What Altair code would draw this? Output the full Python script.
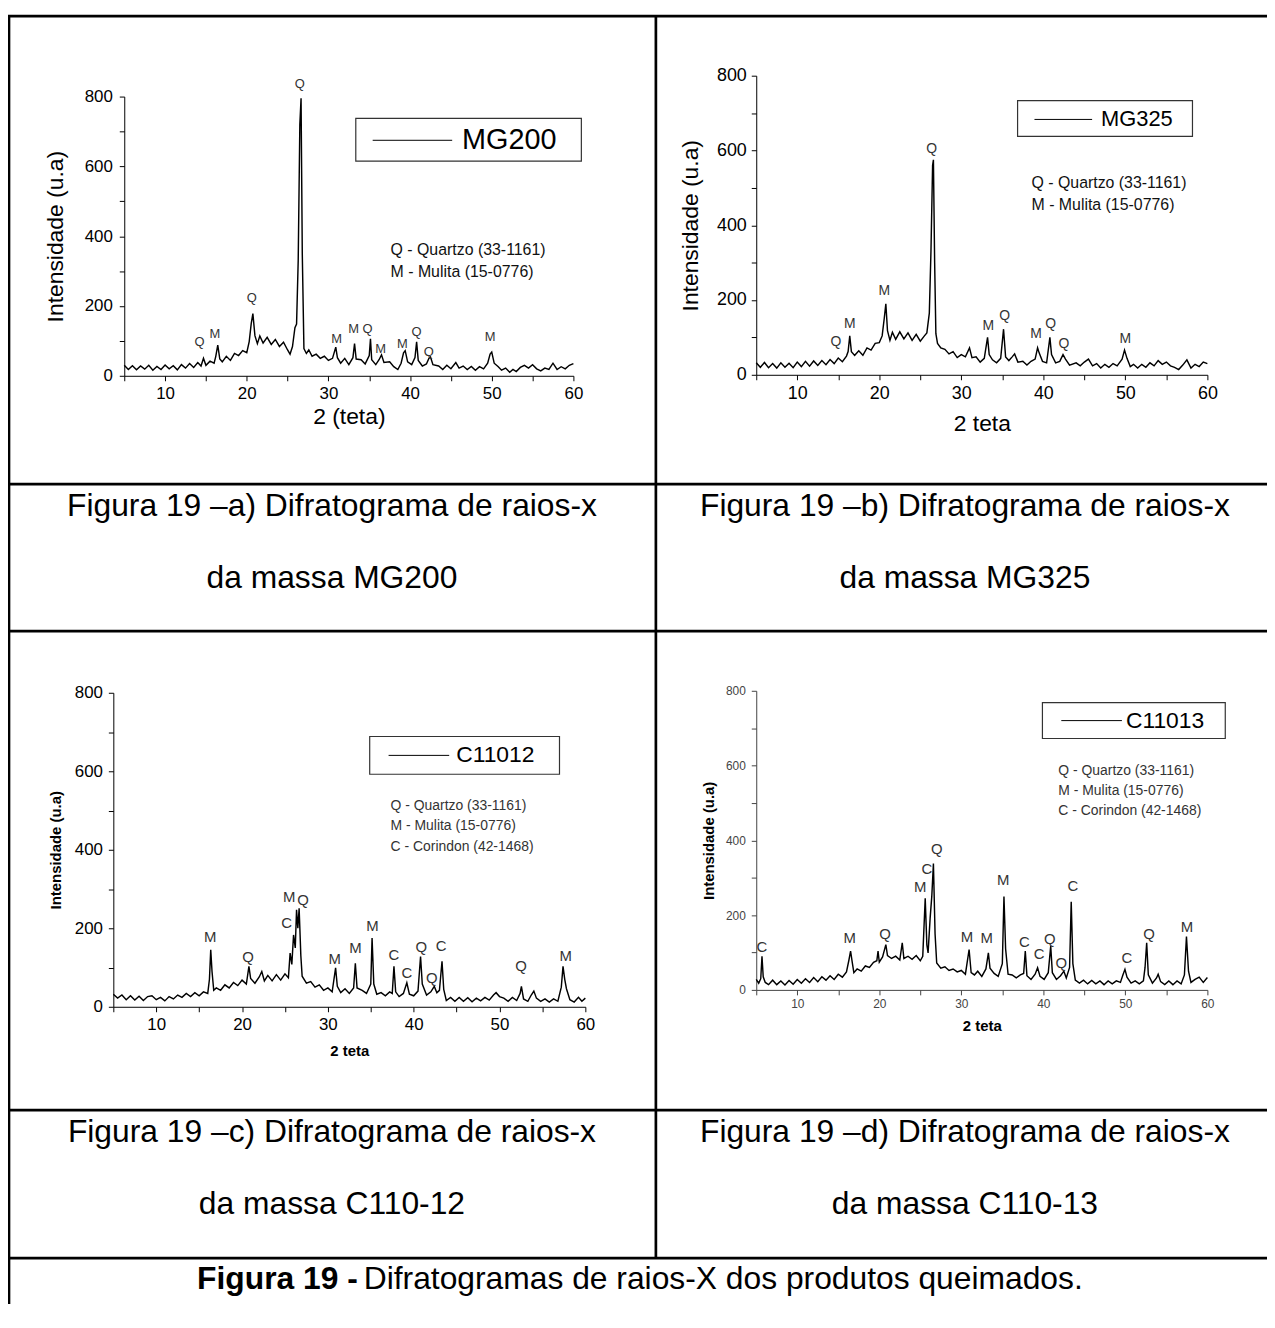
import altair as alt
import pandas as pd

FONT = "Liberation Sans, Arial, Helvetica, sans-serif"
W, H = 1267, 1300

# ---------------- data (2-theta, intensity) ----------------
mg200 = [(5.0,30),(5.5,18),(6.0,29),(6.5,17),(7.0,28),(7.5,19),(8.0,30),(8.5,16),(9.0,27),(9.5,18),
 (10.0,31),(10.5,20),(11.0,29),(11.5,17),(12.0,32),(12.5,22),(13.0,35),(13.5,24),(14.0,38),(14.4,28),
 (14.7,50),(15.0,30),(15.5,42),(16.0,36),(16.2,55),(16.45,88),(16.7,48),(17.0,40),(17.5,56),(18.0,44),
 (18.5,64),(19.0,58),(19.5,72),(20.0,66),(20.3,98),(20.55,150),(20.75,178),(21.0,115),(21.3,92),(21.6,114),
 (22.0,94),(22.5,110),(23.0,90),(23.5,104),(24.0,84),(24.5,96),(25.0,74),(25.3,62),(25.6,84),(25.9,138),
 (26.1,148),(26.3,330),(26.5,720),(26.65,795),(26.8,350),(27.0,78),(27.3,64),(27.6,74),(28.0,56),(28.5,62),
 (29.0,50),(29.5,56),(30.0,44),(30.5,50),(30.9,82),(31.1,52),(31.5,36),(32.0,50),(32.5,32),(33.0,52),
 (33.2,92),(33.4,48),(34.0,46),(34.5,34),(35.0,58),(35.15,106),(35.3,46),(35.8,32),(36.2,46),(36.5,60),
 (36.8,38),(37.5,40),(38.0,26),(38.5,18),(38.9,36),(39.2,66),(39.4,72),(39.7,40),(40.2,32),(40.6,52),
 (40.8,97),(41.0,44),(41.5,28),(42.0,34),(42.3,50),(42.5,54),(42.8,32),(43.5,28),(44.0,18),(44.5,30),
 (45.0,20),(45.6,38),(46.0,22),(46.5,28),(47.0,18),(47.5,27),(48.0,16),(48.5,26),(49.0,20),(49.5,36),
 (49.8,62),(50.0,68),(50.3,36),(50.8,26),(51.2,16),(51.7,22),(52.2,10),(52.6,18),(53.0,12),(53.5,24),
 (54.0,30),(54.5,22),(55.0,32),(55.5,20),(56.0,14),(56.5,22),(57.0,18),(57.5,36),(58.0,18),(58.5,26),
 (59.0,20),(59.5,30),(60.0,35)]
mg200_peaks = [(14.2,97,"Q"),(16.1,121,"M"),(20.6,222,"Q"),(26.5,835,"Q"),(31.0,104,"M"),(33.1,135,"M"),
 (34.8,135,"Q"),(36.4,78,"M"),(39.05,92,"M"),(40.8,125,"Q"),(42.3,67,"Q"),(49.8,111,"M")]

mg325 = [(5.0,32),(5.5,20),(6.0,33),(6.5,19),(7.0,30),(7.5,18),(8.0,32),(8.5,20),(9.0,31),(9.5,19),
 (10.0,34),(10.5,22),(11.0,36),(11.5,23),(12.0,37),(12.5,25),(13.0,38),(13.5,27),(14.0,41),(14.5,30),
 (15.0,45),(15.5,35),(16.0,50),(16.2,62),(16.4,104),(16.6,62),(17.0,52),(17.5,64),(18.0,52),(18.5,72),
 (19.0,66),(19.5,84),(20.0,86),(20.35,104),(20.6,150),(20.8,190),(21.0,118),(21.3,92),(21.6,114),(22.0,95),
 (22.5,115),(23.0,96),(23.5,112),(24.0,92),(24.5,108),(25.0,90),(25.5,104),(25.8,112),(26.1,165),(26.3,330),
 (26.5,560),(26.6,575),(26.75,300),(26.9,110),(27.1,84),(27.5,72),(28.0,68),(28.5,56),(29.0,62),(29.5,46),
 (30.0,54),(30.5,48),(31.0,72),(31.3,46),(31.8,48),(32.3,34),(32.8,44),(33.2,100),(33.4,54),(33.8,40),
 (34.3,32),(34.8,44),(35.15,122),(35.4,48),(35.8,38),(36.2,48),(36.5,56),(36.9,34),(37.5,36),(38.0,26),
 (38.5,36),(39.0,42),(39.3,72),(39.5,58),(39.9,36),(40.4,32),(40.8,100),(41.0,54),(41.5,32),(42.0,36),
 (42.4,54),(42.7,42),(43.2,26),(44.0,32),(44.5,24),(45.0,34),(45.5,42),(46.0,24),(46.5,30),(47.0,18),
 (47.5,28),(48.0,20),(48.5,30),(49.0,24),(49.6,42),(49.9,66),(50.2,44),(50.6,22),(51.0,28),(51.5,18),
 (52.0,28),(52.5,20),(53.0,32),(53.5,24),(54.0,38),(54.5,28),(55.0,34),(55.5,24),(56.0,20),(56.5,14),
 (57.0,26),(57.5,40),(58.0,18),(58.5,28),(59.0,22),(59.5,34),(60.0,30)]
mg325_peaks = [(14.7,88,"Q"),(16.4,137,"M"),(20.6,223,"M"),(26.4,603,"Q"),(33.3,131,"M"),(35.3,156,"Q"),
 (39.1,108,"M"),(40.9,136,"Q"),(42.5,83,"Q"),(50.0,95,"M")]

c11012 = [(5.0,32),(5.5,22),(6.0,30),(6.5,18),(7.0,28),(7.5,17),(8.0,27),(8.5,16),(9.0,26),(9.5,28),
 (10.0,18),(10.5,24),(11.0,15),(11.5,26),(12.0,20),(12.5,30),(13.0,24),(13.5,34),(14.0,26),(14.5,36),
 (15.0,28),(15.5,38),(16.0,34),(16.2,70),(16.35,145),(16.5,90),(16.7,42),(17.0,48),(17.5,42),(18.0,56),
 (18.5,48),(19.0,62),(19.5,54),(20.0,68),(20.5,58),(20.8,103),(21.0,72),(21.5,60),(22.0,76),(22.3,90),
 (22.6,66),(23.0,80),(23.5,66),(24.0,82),(24.5,68),(25.0,84),(25.4,74),(25.6,137),(25.8,108),(26.0,183),
 (26.2,150),(26.35,247),(26.5,200),(26.65,251),(26.85,130),(27.0,78),(27.5,60),(28.0,64),(28.5,50),(29.0,56),
 (29.5,42),(30.0,48),(30.5,38),(30.9,99),(31.1,52),(31.5,36),(32.0,46),(32.5,34),(33.0,48),(33.2,111),
 (33.4,48),(34.0,42),(34.5,34),(35.0,58),(35.15,175),(35.35,58),(35.7,32),(36.2,36),(36.7,28),(37.2,38),
 (37.5,34),(37.7,103),(37.9,38),(38.3,26),(38.8,34),(39.2,61),(39.5,32),(40.0,28),(40.5,40),(40.8,128),
 (41.0,58),(41.5,30),(42.0,38),(42.4,52),(42.7,36),(43.0,42),(43.3,116),(43.5,44),(43.8,16),(44.3,24),
 (44.8,14),(45.3,24),(45.8,14),(46.3,23),(46.8,13),(47.3,22),(47.8,15),(48.3,24),(48.8,17),(49.3,30),
 (49.6,36),(50.0,26),(50.5,22),(51.0,14),(51.5,24),(52.0,16),(52.4,34),(52.55,52),(52.8,20),(53.3,14),
 (53.7,30),(54.0,40),(54.3,22),(54.8,14),(55.3,20),(55.8,12),(56.3,20),(56.8,14),(57.2,50),(57.4,103),
 (57.6,70),(57.8,46),(58.2,18),(58.7,12),(59.2,24),(59.6,14),(60.0,22)]
c11012_peaks = [(16.3,177,"M"),(20.7,128,"Q"),(25.2,213,"C"),(25.5,280,"M"),(27.1,272,"Q"),(30.8,122,"M"),
 (33.2,150,"M"),(35.2,206,"M"),(37.7,133,"C"),(39.2,86,"C"),(40.9,151,"Q"),(42.1,73,"Q"),(43.2,154,"C"),
 (52.5,105,"Q"),(57.7,130,"M")]

c11013 = [(5.0,28),(5.3,18),(5.55,30),(5.7,90),(5.85,35),(6.1,20),(6.5,14),(7.0,26),(7.5,14),(8.0,24),
 (8.5,13),(9.0,25),(9.5,15),(10.0,28),(10.5,18),(11.0,30),(11.5,20),(12.0,33),(12.5,22),(13.0,35),
 (13.5,26),(14.0,38),(14.5,28),(15.0,42),(15.5,34),(16.0,48),(16.3,80),(16.5,104),(16.7,74),(16.9,46),
 (17.3,56),(17.8,50),(18.3,64),(18.8,60),(19.3,74),(19.7,78),(19.85,104),(20.0,74),(20.4,88),(20.8,121),
 (21.0,92),(21.5,84),(22.0,90),(22.5,80),(22.8,126),(23.0,84),(23.5,90),(24.0,82),(24.5,92),(25.0,78),
 (25.3,90),(25.6,245),(25.8,120),(25.95,99),(26.2,192),(26.4,250),(26.6,338),(26.8,150),(27.0,72),(27.5,58),
 (28.0,62),(28.5,52),(29.0,56),(29.5,48),(30.0,52),(30.5,42),(30.95,108),(31.2,46),(31.6,40),(32.0,50),
 (32.5,36),(33.0,56),(33.3,99),(33.5,58),(34.0,44),(34.5,36),(35.0,70),(35.2,250),(35.4,110),(35.7,42),
 (36.2,40),(36.7,32),(37.2,40),(37.6,44),(37.8,104),(38.0,38),(38.5,28),(39.0,42),(39.3,59),(39.6,36),
 (40.1,28),(40.6,46),(40.9,117),(41.1,46),(41.6,28),(42.1,38),(42.5,50),(42.8,32),(43.2,60),(43.4,236),
 (43.6,70),(43.9,26),(44.4,18),(44.9,26),(45.4,16),(45.9,25),(46.4,16),(46.9,24),(47.4,14),(47.9,24),
 (48.4,16),(48.9,24),(49.4,20),(49.7,40),(49.95,55),(50.2,34),(50.7,18),(51.2,24),(51.7,16),(52.2,24),
 (52.4,60),(52.6,126),(52.8,40),(53.3,18),(53.8,32),(54.0,42),(54.3,22),(54.8,14),(55.3,24),(55.8,14),
 (56.3,24),(56.8,16),(57.2,40),(57.45,143),(57.7,50),(58.0,20),(58.5,28),(59.0,34),(59.5,20),(60.0,33)]
c11013_peaks = [(5.7,115,"C"),(16.4,139,"M"),(20.7,150,"Q"),(25.0,276,"M"),(25.8,323,"C"),(27.0,378,"Q"),
 (30.7,142,"M"),(33.1,139,"M"),(35.1,294,"M"),(37.7,127,"C"),(39.5,95,"C"),(40.8,137,"Q"),(42.2,73,"Q"),
 (43.6,279,"C"),(50.2,86,"C"),(52.9,150,"Q"),(57.5,168,"M")]

phases_2 = ["Q - Quartzo (33-1161)", "M - Mulita (15-0776)"]
phases_3 = ["Q - Quartzo (33-1161)", "M - Mulita (15-0776)", "C - Corindon (42-1468)"]
x_ticks = [5, 10, 15, 20, 25, 30, 35, 40, 45, 50, 55, 60]
y_ticks = [0, 100, 200, 300, 400, 500, 600, 700, 800]

DUMMY = pd.DataFrame({"d": [0]})


def xrd(points, peaks, xr, yr, st):
    df = pd.DataFrame(points, columns=["t", "i"])
    pk = pd.DataFrame(peaks, columns=["t", "i", "lab"])
    xs = alt.Scale(domain=[5, 60], range=xr, nice=False, zero=False)
    ys = alt.Scale(domain=[0, 800], range=yr, nice=False, zero=False)
    common = dict(grid=False, domainColor=st["ac"], tickColor=st["ac"], labelColor=st["ac"],
                  titleColor="black", tickSize=5, labelFontSize=st["lf"], titleFontSize=st["tf"],
                  titleFontWeight=st["tw"], labelOverlap=False, labelFlush=False, domainWidth=1,
                  tickWidth=1)
    xa = alt.Axis(orient="bottom", offset=yr[0] - H, values=x_ticks,
                  labelExpr="datum.value % 10 === 0 ? datum.label : ''",
                  title=st["xt"], labelPadding=st["xlp"], titlePadding=st["xtp"], **common)
    ya = alt.Axis(orient="left", offset=-xr[0], values=y_ticks,
                  labelExpr="datum.value % 200 === 0 ? datum.label : ''",
                  title="Intensidade (u.a)", labelPadding=st["ylp"], titlePadding=st["ytp"], **common)
    line = alt.Chart(df).mark_line(color="black", strokeWidth=1.45).encode(
        x=alt.X("t:Q", scale=xs, axis=xa), y=alt.Y("i:Q", scale=ys, axis=ya))
    labs = alt.Chart(pk).mark_text(fontSize=st["pf"], color="#333", baseline="middle").encode(
        x=alt.X("t:Q", scale=xs, axis=xa), y=alt.Y("i:Q", scale=ys, axis=ya), text="lab:N")
    return alt.layer(line, labs)


def txt(s, x, y, size, align="center", weight="normal", color="black"):
    return alt.Chart(pd.DataFrame({"s": [s]})).mark_text(
        align=align, baseline="middle", fontSize=size, fontWeight=weight, color=color
    ).encode(x=alt.value(x), y=alt.value(y), text="s:N")


def rule(x1, y1, x2, y2, w=2.7, color="black"):
    enc = dict(x=alt.value(x1), y=alt.value(y1))
    if x1 != x2:
        enc["x2"] = alt.value(x2)
    if y1 != y2:
        enc["y2"] = alt.value(y2)
    return alt.Chart(DUMMY).mark_rule(color=color, strokeWidth=w).encode(**enc)


def legend_box(x1, y1, x2, y2, lx1, lx2, ly, label, tx, size):
    box = alt.Chart(DUMMY).mark_rect(fill="white", stroke="#333", strokeWidth=1.2).encode(
        x=alt.value(x1), x2=alt.value(x2), y=alt.value(y1), y2=alt.value(y2))
    return [box, rule(lx1, ly, lx2, ly, w=1), txt(label, tx, ly, size, align="left")]


layers = []
# table borders
layers += [rule(0, 4, W, 4), rule(1, 4, 1, H), rule(652, 4, 652, 1254),
           rule(0, 475, W, 475), rule(0, 623, W, 623), rule(0, 1105, W, 1105), rule(0, 1254, W, 1254)]

# legend boxes
layers += legend_box(350, 107, 577, 150, 367, 447, 129, "MG200", 457, 29)
layers += legend_box(1016, 89, 1192, 125, 1033, 1091, 108, "MG325", 1100, 22)
layers += legend_box(364, 729, 555, 767, 383, 444, 748, "C11012", 451, 23)
layers += legend_box(1041, 695, 1225, 731, 1060, 1121, 713, "C11013", 1125, 23)

# phase annotations
for k, s in enumerate(phases_2):
    layers.append(txt(s, 385, 239 + 23 * k, 16, align="left", color="#111"))
    layers.append(txt(s, 1030, 172 + 22 * k, 16, align="left", color="#111"))
for k, s in enumerate(phases_3):
    layers.append(txt(s, 385, 799 + 20.5 * k, 14, align="left", color="#333"))
    layers.append(txt(s, 1057, 764 + 20 * k, 14, align="left", color="#333"))

# captions
caps = [("Figura 19 –a) Difratograma de raios-x", 326, 497), ("da massa MG200", 326, 570),
        ("Figura 19 –b) Difratograma de raios-x", 963, 497), ("da massa MG325", 963, 570),
        ("Figura 19 –c) Difratograma de raios-x", 326, 1127), ("da massa C110-12", 326, 1200),
        ("Figura 19 –d) Difratograma de raios-x", 963, 1127), ("da massa C110-13", 963, 1200)]
for s, x, y in caps:
    layers.append(txt(s, x, y, 32))
layers.append(txt("Figura 19 -", 352, 1275, 32, align="right", weight="bold"))
layers.append(txt("Difratogramas de raios-X dos produtos queimados.", 358, 1275, 32, align="left"))

# the four diffractograms
st_a = dict(ac="black", lf=17, tf=23, tw="normal", xt="2 (teta)", xlp=5, xtp=4, ylp=7, ytp=17, pf=13)
st_b = dict(ac="black", lf=18, tf=23, tw="normal", xt="2 teta", xlp=5, xtp=10, ylp=5, ytp=14, pf=14)
st_c = dict(ac="black", lf=17, tf=15, tw="bold", xt="2 teta", xlp=5, xtp=11, ylp=6, ytp=11, pf=15)
st_d = dict(ac="#444", lf=12, tf=15, tw="bold", xt="2 teta", xlp=4, xtp=9, ylp=6, ytp=9, pf=15)

layers.append(xrd(mg200, mg200_peaks, [117, 569], [366, 85], st_a))
layers.append(xrd(mg325, mg325_peaks, [753, 1207], [365, 64], st_b))
layers.append(xrd(c11012, c11012_peaks, [106, 581], [1001, 685], st_c))
layers.append(xrd(c11013, c11013_peaks, [753, 1207], [984, 683], st_d))

chart = alt.layer(*layers).resolve_scale(x="independent", y="independent").properties(
    width=W, height=H, autosize=alt.AutoSizeParams(type="none"), padding=0
).configure(font=FONT).configure_view(stroke=None)

chart.save("out.html", embed_options={"renderer": "svg", "actions": False})
